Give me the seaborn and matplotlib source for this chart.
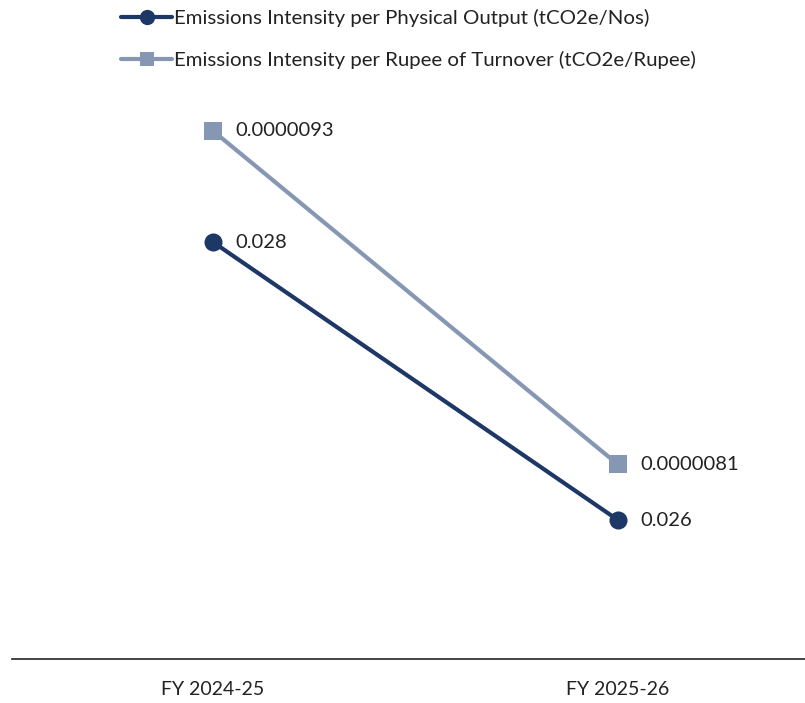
import pandas as pd
import matplotlib.pyplot as plt
import seaborn as sns
from matplotlib.lines import Line2D

years = ['FY 2024-25', 'FY 2025-26']
physical_output = [0.028, 0.026]
turnover = [0.0000093, 0.0000081]
physical_labels = ['0.028', '0.026']
turnover_labels = ['0.0000093', '0.0000081']

NAVY = '#1d3866'
GREY = '#8597b2'

sns.set_theme(style='white')
plt.rcParams['font.family'] = ['Lato', 'DejaVu Sans']

fig = plt.figure(figsize=(8.05, 7.03), dpi=100)
ax = fig.add_axes([12 / 805, 1 - 659 / 703, 793 / 805, 556 / 703])
ax2 = ax.twinx()

df = pd.DataFrame({'year': years, 'physical': physical_output, 'turnover': turnover})
x = list(range(len(years)))

# turnover line on the twin axis, drawn first so the navy line sits on top
sns.lineplot(x=x, y=df['turnover'], ax=ax2, color=GREY, linewidth=3,
             marker='s', markersize=12.5, markeredgewidth=0)
sns.lineplot(x=x, y=df['physical'], ax=ax, color=NAVY, linewidth=3,
             marker='o', markersize=13, markeredgewidth=0)
ax.set_zorder(ax2.get_zorder() + 1)
ax.patch.set_visible(False)

for xi, v, lab in zip(x, physical_output, physical_labels):
    ax.annotate(lab, (xi, v), xytext=(16, 0), textcoords='offset points',
                va='center', ha='left', fontsize=14.5, color='#222222')
for xi, v, lab in zip(x, turnover, turnover_labels):
    ax2.annotate(lab, (xi, v), xytext=(16, 0), textcoords='offset points',
                 va='center', ha='left', fontsize=14.5, color='#222222')

ax.set_xlim(-0.496, 1.462)
ax.set_ylim(0.025, 0.029)
ax2.set_ylim(7.4e-6, 9.4e-6)

ax.set_xticks(x)
ax.set_xticklabels(years, fontsize=14, color='#222222')
ax.tick_params(axis='x', length=0, pad=16)
ax.set_yticks([])
ax2.set_yticks([])
ax.set_xlabel('')
ax.set_ylabel('')
ax2.set_ylabel('')
for a in (ax, ax2):
    for side in ('top', 'left', 'right', 'bottom'):
        a.spines[side].set_visible(False)
ax.spines['bottom'].set_visible(True)
ax.spines['bottom'].set_color('#222222')
ax.spines['bottom'].set_linewidth(1.2)

handles = [
    Line2D([], [], color=NAVY, linewidth=3, marker='o', markersize=11, markeredgewidth=0),
    Line2D([], [], color=GREY, linewidth=3, marker='s', markersize=10.5, markeredgewidth=0),
]
labels = ['Emissions Intensity per Physical Output (tCO2e/Nos)',
          'Emissions Intensity per Rupee of Turnover (tCO2e/Rupee)']
fig.legend(handles, labels, loc='upper left', bbox_to_anchor=(112 / 805, 1.0),
           frameon=False, fontsize=14.7, handlelength=2.5, handletextpad=0.1,
           labelspacing=1.15, borderaxespad=0.05, labelcolor='#222222')

fig.savefig('out.png', dpi=100)
